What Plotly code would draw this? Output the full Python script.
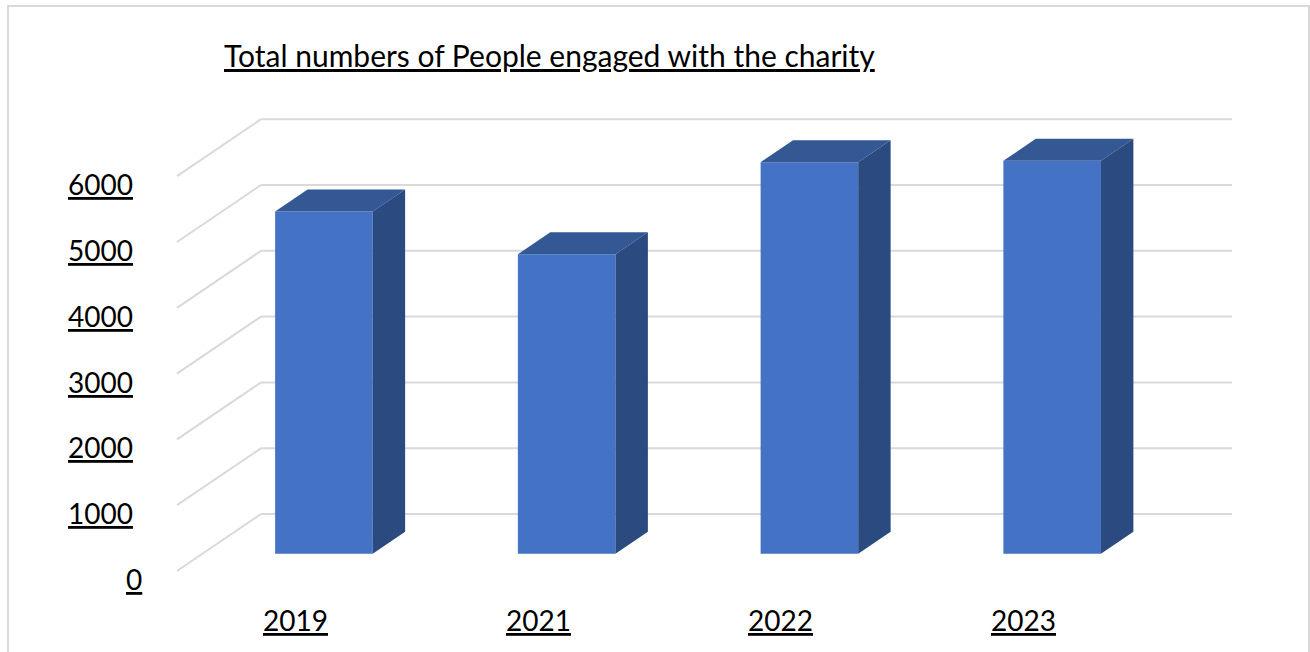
import plotly.graph_objects as go

# Chart data
years = ["2019", "2021", "2022", "2023"]
people = [5200, 4550, 5950, 5970]
tick_values = [0, 1000, 2000, 3000, 4000, 5000, 6000]
title_text = "Total numbers of People engaged with the charity"

# Oblique projection settings (x in category slots, y in data units)
W, H = 1310, 652
PX_PER_SLOT = 242.75
PX_PER_UNIT = 65.8 / 1000.0
ORIGIN_X_PX = 261.0     # back-wall left edge
ORIGIN_Y_PX = 514.0     # back-wall zero line
DEPTH_DX = -84.0 / PX_PER_SLOT          # full floor depth, x shift
DEPTH_DY = -57.0 / PX_PER_UNIT          # full floor depth, y shift
BAR_FRONT = 0.696                        # depth of bar front face
BAR_BACK = 0.31                          # depth of bar back face
BAR_W = 0.402                            # bar width in slots

FRONT_C = "#4472C4"
TOP_C = "#335894"
SIDE_C = "#2A4A80"
GRID_C = "#D9D9D9"
FONT = "Lato"

xr = [-ORIGIN_X_PX / PX_PER_SLOT, (W - ORIGIN_X_PX) / PX_PER_SLOT]
yr = [-(H - ORIGIN_Y_PX) / PX_PER_UNIT, ORIGIN_Y_PX / PX_PER_UNIT]


def proj(x, v, d):
    """Point at slot position x, value v, depth d (0 = back wall, 1 = front)."""
    return x + d * DEPTH_DX, v + d * DEPTH_DY


fig = go.Figure()
n = len(years)

# Gridlines (drawn beneath the columns): floor diagonal plus back-wall line
shapes = []
for v in tick_values:
    fx, fy = proj(0, v, 1)
    shapes.append(dict(type="line", xref="x", yref="y", x0=fx, y0=fy, x1=0, y1=v,
                       line=dict(color=GRID_C, width=2), layer="below"))
    shapes.append(dict(type="line", xref="x", yref="y", x0=0, y0=v, x1=n, y1=v,
                       line=dict(color=GRID_C, width=2), layer="below"))

# Outer chart border
shapes.append(dict(type="rect", xref="paper", yref="paper",
                   x0=8 / W, x1=1309 / W, y0=-0.02, y1=1 - 6 / H,
                   line=dict(color=GRID_C, width=2), fillcolor="rgba(0,0,0,0)",
                   layer="below"))

# Front faces of the columns
front_x = [i + 0.5 + BAR_FRONT * DEPTH_DX for i in range(n)]
front_base = BAR_FRONT * DEPTH_DY
fig.add_trace(go.Bar(
    x=front_x, y=people, base=[front_base] * n, width=BAR_W,
    marker=dict(color=FRONT_C, line=dict(width=0)),
    hoverinfo="skip", showlegend=False))

# Top and side faces
for i, v in enumerate(people):
    xl, xrt = i + 0.5 - BAR_W / 2, i + 0.5 + BAR_W / 2
    faces = [
        ([proj(xl, v, BAR_FRONT), proj(xrt, v, BAR_FRONT),
          proj(xrt, v, BAR_BACK), proj(xl, v, BAR_BACK)], TOP_C),
        ([proj(xrt, 0, BAR_FRONT), proj(xrt, v, BAR_FRONT),
          proj(xrt, v, BAR_BACK), proj(xrt, 0, BAR_BACK)], SIDE_C),
    ]
    for pts, col in faces:
        fig.add_trace(go.Scatter(
            x=[p[0] for p in pts] + [pts[0][0]], y=[p[1] for p in pts] + [pts[0][1]],
            mode="lines", fill="toself", fillcolor=col, line=dict(width=0, color=col),
            hoverinfo="skip", showlegend=False))

annotations = []
# Value axis labels along the front edge
for v in tick_values:
    fx, fy = proj(0, v, 1)
    annotations.append(dict(
        x=fx, y=fy, xref="x", yref="y", text=f"<u>{v}</u>", showarrow=False,
        xanchor="right", yanchor="middle", xshift=-33 if v == 0 else -42, yshift=-8,
        font=dict(family=FONT, size=28, color="#000000")))

# Category labels below the front edge
for i, yr_lbl in enumerate(years):
    fx, fy = proj(i + 0.5, 0, 1)
    annotations.append(dict(
        x=fx, y=fy, xref="x", yref="y", text=f"<u>{yr_lbl}</u>", showarrow=False,
        xanchor="center", yanchor="middle", xshift=-3, yshift=-49,
        font=dict(family=FONT, size=28, color="#000000")))

# Title
annotations.append(dict(
    x=222 / W, y=1 - 55 / H, xref="paper", yref="paper", text=f"<u>{title_text}</u>",
    showarrow=False, xanchor="left", yanchor="middle",
    font=dict(family=FONT, size=30, color="#000000")))

fig.update_layout(
    width=W, height=H,
    margin=dict(l=0, r=0, t=0, b=0),
    paper_bgcolor="white", plot_bgcolor="white",
    xaxis=dict(range=xr, visible=False, fixedrange=True),
    yaxis=dict(range=yr, visible=False, fixedrange=True),
    annotations=annotations,
    shapes=shapes,
    showlegend=False,
)

fig.write_html("out.html")
